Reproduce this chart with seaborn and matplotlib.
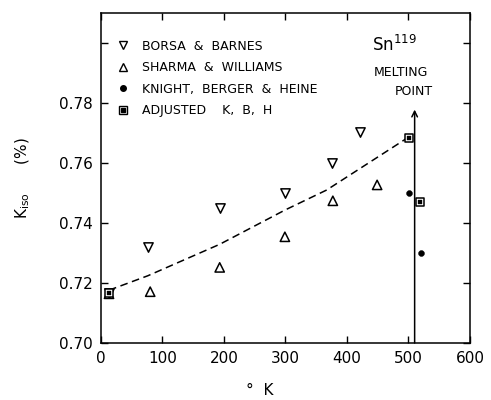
import numpy as np
import pandas as pd
import matplotlib
matplotlib.use('Agg')
import matplotlib.pyplot as plt
import seaborn as sns
from matplotlib.lines import Line2D

# >> values
borsa_T = [13, 76, 193, 299, 375, 421]
borsa_K = [0.7168, 0.7321, 0.7451, 0.7501, 0.7601, 0.7704]

sharma_T = [13, 80, 193, 299, 377, 449]
sharma_K = [0.7164, 0.7171, 0.7252, 0.7354, 0.7474, 0.7527]

knight_T = [501, 520]
knight_K = [0.7501, 0.7301]

adjusted_T = [13, 501, 519]
adjusted_K = [0.7166, 0.7682, 0.7471]

fit_T = [13, 76, 193, 299, 367, 497]
fit_K = [0.7176, 0.7224, 0.7329, 0.7443, 0.7510, 0.7682]

melting_T = 510

sns.set_style('ticks')
plt.rcParams['font.family'] = ['DejaVu Sans']
plt.rcParams['text.color'] = 'black'
plt.rcParams['axes.labelcolor'] = 'black'
plt.rcParams['xtick.color'] = 'black'
plt.rcParams['ytick.color'] = 'black'
plt.rcParams['axes.edgecolor'] = 'black'

fig = plt.figure(figsize=(4.91, 4.0), dpi=100)
ax = fig.add_axes([0.2057, 0.1425, 0.7515, 0.825])

# fitted dashed curve
sns.lineplot(x=fit_T, y=fit_K, ax=ax, color='black', linestyle=(0, (5, 3)), lw=1.1)

# data points
sns.scatterplot(x=borsa_T, y=borsa_K, ax=ax, marker='v', s=45,
                facecolor='white', edgecolor='black', linewidth=1.1, zorder=3)
sns.scatterplot(x=sharma_T, y=sharma_K, ax=ax, marker='^', s=45,
                facecolor='none', edgecolor='black', linewidth=1.1, zorder=3)
sns.scatterplot(x=knight_T, y=knight_K, ax=ax, marker='o', s=18,
                color='black', edgecolor='black', zorder=3)
sns.scatterplot(x=adjusted_T, y=adjusted_K, ax=ax, marker='s', s=40,
                facecolor='white', edgecolor='black', linewidth=1.1, zorder=4)
sns.scatterplot(x=adjusted_T, y=adjusted_K, ax=ax, marker='s', s=10,
                color='black', edgecolor='black', zorder=5)

# melting point arrow
ax.annotate('', xy=(melting_T, 0.7778), xytext=(melting_T, 0.70),
            arrowprops=dict(arrowstyle='->', color='black', lw=1.1,
                            shrinkA=0, shrinkB=0, mutation_scale=10))
ax.text(444, 0.7900, 'MELTING', fontsize=9, ha='left', va='center')
ax.text(478, 0.7837, 'POINT', fontsize=9, ha='left', va='center')
ax.text(441, 0.7993, 'Sn$^{119}$', fontsize=12, ha='left', va='center')

# legend
handles = [
    Line2D([], [], marker='v', ls='none', mfc='white', mec='black', ms=6, mew=1),
    Line2D([], [], marker='^', ls='none', mfc='white', mec='black', ms=6, mew=1),
    Line2D([], [], marker='o', ls='none', mfc='black', mec='black', ms=4),
    (Line2D([], [], marker='s', ls='none', mfc='white', mec='black', ms=6, mew=1),
     Line2D([], [], marker='s', ls='none', mfc='black', mec='black', ms=2.5)),
]
labels = ['BORSA  &  BARNES', 'SHARMA  &  WILLIAMS',
          'KNIGHT,  BERGER  &  HEINE', 'ADJUSTED    K,  B,  H']
ax.legend(handles, labels, loc='upper left', bbox_to_anchor=(0.016, 0.95),
          frameon=False, fontsize=9, handlelength=1.0, handletextpad=1.0,
          labelspacing=0.68, borderaxespad=0.4)

ax.set_xlim(0, 600)
ax.set_ylim(0.70, 0.81)
ax.set_xticks(np.arange(0, 601, 100))
ax.set_xticks([500], minor=True)
yt = np.arange(0.70, 0.801, 0.02)
ax.set_yticks(yt)
ax.set_yticklabels([f'{v:.2f}' if v < 0.79 else '' for v in yt])
ax.tick_params(direction='in', top=True, right=True, length=5, width=1,
               labelsize=11, pad=6)
ax.tick_params(which='minor', direction='in', top=False, length=5, width=1)
for sp in ax.spines.values():
    sp.set_linewidth(1.1)

ax.set_xlabel('°  K', fontsize=11)
ax.xaxis.label.set_va('baseline')
ax.xaxis.set_label_coords(0.43, -0.158)
ax.set_ylabel('K$_{\\mathrm{iso}}$      (%)', fontsize=11)
ax.yaxis.set_label_coords(-0.187, 0.50)

fig.savefig('out.png', dpi=100)
